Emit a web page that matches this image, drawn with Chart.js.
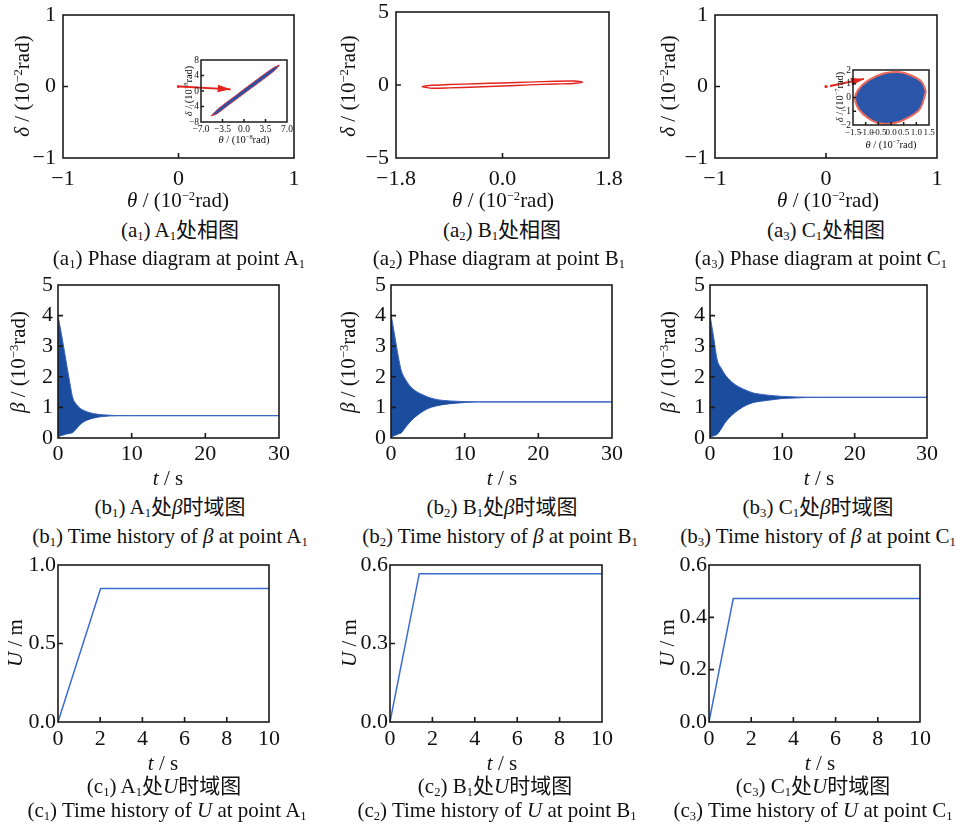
<!DOCTYPE html>
<html>
<head>
<meta charset="utf-8">
<script src="https://cdn.jsdelivr.net/npm/chart.js@4.4.1/dist/chart.umd.min.js"></script>
<style>
  html, body { margin: 0; padding: 0; background: #fff; }
  #fig { position: relative; width: 957px; height: 827px; overflow: hidden;
         font-family: "Liberation Serif", "Noto Sans CJK SC", serif; color: #111; }
  #fig canvas { position: absolute; }
  .t { position: absolute; white-space: nowrap; line-height: 1; transform: translate(-50%, -50%); }
  .t.r { transform: translate(-50%, -50%) rotate(-90deg); }
  .t sup { font-size: 0.6em; vertical-align: 0.55em; line-height: 0; }
  .t sub { font-size: 0.6em; vertical-align: -0.3em; line-height: 0; }
</style>
</head>
<body>
<div id="fig"></div>
<script>
// ---------------- data ----------------
// (a1) phase portrait at A1, 10^-2 rad
const a1ThetaTicks = [-1, 0, 1];
const a1DeltaTicks = [-1, 0, 1];
const a1OriginTheta = [0.0];
const a1OriginDelta = [0.0];
const a1ArrowTheta = [0.013, 0.452];
const a1ArrowDelta = [0.0, -0.039];
// (a1) zoomed orbit, 10^-8 rad
const a1InsetThetaTicks = [-7.0, -3.5, 0.0, 3.5, 7.0];
const a1InsetDeltaTicks = [-8, -4, 0, 4, 8];
const a1OrbitTheta = [-5.4, -4.5, -3.0, -1.0, 1.0, 3.0, 4.8, 5.75, 5.0, 3.2, 1.2, -0.8, -2.8, -4.4, -5.4];
const a1OrbitDelta = [-6.45, -5.0, -3.1, -0.75, 1.65, 4.0, 6.0, 6.7, 5.3, 3.1, 0.75, -1.6, -3.95, -5.9, -6.45];

// (a2) phase portrait at B1, 10^-2 rad
const a2ThetaTicks = [-1.8, 0.0, 1.8];
const a2DeltaTicks = [-5, 0, 5];
const a2OrbitTheta = [-1.365, -1.2, -0.9, -0.45, 0.0, 0.45, 0.9, 1.2, 1.355, 1.2, 0.9, 0.45, 0.0, -0.45, -0.9, -1.2, -1.365];
const a2OrbitDelta = [-0.11, -0.02, 0.03, 0.09, 0.14, 0.2, 0.26, 0.27, 0.18, 0.1, 0.07, 0.01, -0.07, -0.14, -0.2, -0.22, -0.11];

// (a3) phase portrait at C1, 10^-2 rad
const a3ThetaTicks = [-1, 0, 1];
const a3DeltaTicks = [-1, 0, 1];
const a3OriginTheta = [0.0];
const a3OriginDelta = [0.0];
const a3ArrowTheta = [0.036, 0.342];
const a3ArrowDelta = [0.007, 0.105];
// (a3) zoomed orbit, 10^-7 rad: outer boundary and two visible inner rings
const a3InsetThetaTicks = [-1.5, -1.0, -0.5, 0.0, 0.5, 1.0, 1.5];
const a3InsetDeltaTicks = [-2, -1, 0, 1, 2];
const a3OrbitTheta = [1.38, 1.2, 0.8, 0.3, -0.3, -0.9, -1.3, -1.42, -1.25, -0.9, -0.45, 0.15, 0.7, 1.15, 1.38];
const a3OrbitDelta = [0.45, 1.15, 1.6, 1.85, 1.75, 1.25, 0.55, -0.1, -0.9, -1.5, -1.88, -1.85, -1.45, -0.8, 0.45];
const a3Ring1Theta = [1.03, 0.9, 0.6, 0.22, -0.22, -0.68, -0.98, -1.06, -0.94, -0.68, -0.34, 0.11, 0.52, 0.86, 1.03];
const a3Ring1Delta = [0.34, 0.86, 1.2, 1.39, 1.31, 0.94, 0.41, -0.08, -0.68, -1.12, -1.41, -1.39, -1.09, -0.6, 0.34];
const a3Ring2Theta = [0.62, 0.54, 0.36, 0.13, -0.13, -0.4, -0.58, -0.64, -0.56, -0.4, -0.2, 0.07, 0.31, 0.52, 0.62];
const a3Ring2Delta = [0.2, 0.52, 0.72, 0.83, 0.79, 0.56, 0.25, -0.05, -0.4, -0.68, -0.85, -0.83, -0.65, -0.36, 0.2];

// (b) beta time histories, 10^-3 rad: oscillation envelopes
const bTimeTicks = [0, 10, 20, 30];
const bBetaTicks = [0, 1, 2, 3, 4, 5];
const b1Time  = [0, 0.5, 1, 1.5, 2, 2.5, 3, 3.5, 4, 5, 6, 7, 8, 10, 30];
const b1Upper = [4.0, 3.35, 2.65, 1.95, 1.32, 1.1, 0.97, 0.9, 0.85, 0.79, 0.76, 0.745, 0.735, 0.73, 0.73];
const b1Lower = [0.04, 0.08, 0.12, 0.15, 0.18, 0.3, 0.44, 0.53, 0.59, 0.66, 0.7, 0.72, 0.725, 0.73, 0.73];
const b2Time  = [0, 0.5, 1, 1.4, 2, 2.5, 3, 3.5, 4, 5, 6, 7, 8, 10, 12, 30];
const b2Upper = [4.05, 3.35, 2.65, 2.2, 1.9, 1.72, 1.6, 1.51, 1.45, 1.34, 1.27, 1.23, 1.21, 1.19, 1.18, 1.18];
const b2Lower = [0.03, 0.08, 0.13, 0.17, 0.36, 0.5, 0.63, 0.73, 0.82, 0.96, 1.04, 1.09, 1.12, 1.16, 1.18, 1.18];
const b3Time  = [0, 0.5, 1, 1.5, 2, 2.5, 3, 4, 5, 6, 7, 8, 10, 12, 15, 30];
const b3Upper = [4.0, 3.3, 2.55, 2.3, 2.1, 1.95, 1.83, 1.67, 1.56, 1.47, 1.43, 1.4, 1.36, 1.34, 1.33, 1.33];
const b3Lower = [0.03, 0.07, 0.12, 0.28, 0.47, 0.62, 0.74, 0.93, 1.07, 1.16, 1.2, 1.23, 1.29, 1.31, 1.33, 1.33];

// (c) U time histories, m
const cTimeTicks = [0, 2, 4, 6, 8, 10];
const c1UTicks = [0.0, 0.5, 1.0];
const c2UTicks = [0.0, 0.3, 0.6];
const c3UTicks = [0.0, 0.2, 0.4, 0.6];
const c1Time = [0, 2.02, 10];
const c1U    = [0, 0.85, 0.85];
const c2Time = [0, 1.38, 10];
const c2U    = [0, 0.567, 0.567];
const c3Time = [0, 1.15, 10];
const c3U    = [0, 0.472, 0.472];

// ---------------- styling ----------------
const FONT = '"Liberation Serif", "Noto Sans CJK SC", serif';
const RED = '#e3231d';
const FILL_BLUE = '#1b4d9f';
const EDGE_BLUE = '#3a62c0';
const LINE_BLUE = '#3c6bd2';
const TICK_SIZE = 22;
const fig = document.getElementById('fig');

const pts = (xs, ys) => xs.map((x, i) => ({ x: x, y: ys[i] }));
const fmt = (v, dec) => (v < 0 ? '\u2212' : '') + Math.abs(v).toFixed(dec);

// box frame with inward tick marks on the bottom and left axes
const framePlugin = {
  id: 'frame',
  afterDatasetsDraw(chart, args, o) {
    const { ctx, chartArea: a, scales } = chart;
    const tl = o.tick;
    ctx.save();
    ctx.strokeStyle = '#1b1b1b';
    ctx.lineWidth = o.lw;
    ctx.beginPath();
    scales.x.ticks.forEach(t => {
      const px = scales.x.getPixelForValue(t.value);
      if (px > a.left + 2 && px < a.right - 2) { ctx.moveTo(px, a.bottom); ctx.lineTo(px, a.bottom - tl); }
    });
    scales.y.ticks.forEach(t => {
      const py = scales.y.getPixelForValue(t.value);
      if (py > a.top + 2 && py < a.bottom - 2) { ctx.moveTo(a.left, py); ctx.lineTo(a.left + tl, py); }
    });
    ctx.stroke();
    ctx.strokeRect(a.left, a.top, a.right - a.left, a.bottom - a.top);
    ctx.restore();
  }
};

// arrowhead at the last point of datasets that carry an `arrow` setting
const arrowPlugin = {
  id: 'arrowHead',
  afterDatasetsDraw(chart) {
    const ctx = chart.ctx;
    chart.data.datasets.forEach((ds, i) => {
      if (!ds.arrow) return;
      const el = chart.getDatasetMeta(i).data;
      const p0 = el[el.length - 2], p1 = el[el.length - 1];
      const ang = Math.atan2(p1.y - p0.y, p1.x - p0.x);
      const ux = Math.cos(ang), uy = Math.sin(ang);
      const L = ds.arrow.len, H = ds.arrow.half;
      ctx.save();
      ctx.fillStyle = ds.borderColor;
      ctx.beginPath();
      ctx.moveTo(p1.x, p1.y);
      ctx.lineTo(p1.x - L * ux - H * uy, p1.y - L * uy + H * ux);
      ctx.lineTo(p1.x - L * ux + H * uy, p1.y - L * uy - H * ux);
      ctx.closePath();
      ctx.fill();
      ctx.restore();
    });
  }
};

function axisOpts(dir, a, m) {
  return {
    type: 'linear',
    position: dir === 'x' ? 'bottom' : 'left',
    min: a.min, max: a.max,
    afterBuildTicks: s => { s.ticks = a.ticks.map(v => ({ value: v })); },
    ticks: {
      autoSkip: false, maxRotation: 0, minRotation: 0,
      padding: a.pad, color: '#111',
      font: { family: FONT, size: a.size || TICK_SIZE },
      callback: v => fmt(v, a.dec || 0)
    },
    grid: { display: false, drawTicks: false },
    border: { display: false },
    afterFit: s => {
      if (dir === 'x') s.height = m.xH; else s.width = m.yW;
      s.paddingLeft = s.paddingRight = s.paddingTop = s.paddingBottom = 0;
    }
  };
}

function panel(rect, cfg) {
  const m = Object.assign({ yW: 52, xH: 40, top: 14, right: 18 }, cfg.margin || {});
  const c = document.createElement('canvas');
  const w = rect.r - rect.l + m.yW + m.right;
  const h = rect.b - rect.t + m.top + m.xH;
  c.width = w; c.height = h;
  c.style.left = (rect.l - m.yW) + 'px';
  c.style.top = (rect.t - m.top) + 'px';
  c.style.width = w + 'px'; c.style.height = h + 'px';
  fig.appendChild(c);
  return new Chart(c, {
    type: 'scatter',
    data: { datasets: cfg.datasets },
    options: {
      responsive: false, animation: false, devicePixelRatio: 1,
      layout: { padding: { top: m.top, right: m.right, left: 0, bottom: 0 } },
      plugins: { legend: { display: false }, tooltip: { enabled: false },
                 frame: { tick: cfg.tick || 5, lw: cfg.lw || 1.6 } },
      scales: { x: axisOpts('x', cfg.x, m), y: axisOpts('y', cfg.y, m) }
    },
    plugins: [framePlugin, arrowPlugin]
  });
}

const line = (xs, ys, color, width, extra) => Object.assign({
  data: pts(xs, ys), showLine: true, borderColor: color, borderWidth: width,
  pointRadius: 0, fill: false, tension: 0
}, extra || {});

function envelope(t, up, lo) {
  return [
    line(t, up, EDGE_BLUE, 1, { fill: '+1', backgroundColor: FILL_BLUE, cubicInterpolationMode: 'monotone' }),
    line(t, lo, EDGE_BLUE, 1, { cubicInterpolationMode: 'monotone' })
  ];
}

// ---------------- row a: phase portraits ----------------
panel({ l: 63, t: 15, r: 294, b: 158 }, {
  x: { min: -1, max: 1, ticks: a1ThetaTicks, pad: 8 },
  y: { min: -1, max: 1, ticks: a1DeltaTicks, pad: 7 },
  datasets: [
    line(a1ArrowTheta, a1ArrowDelta, RED, 1.8, { arrow: { len: 13, half: 3.8 } }),
    { data: pts(a1OriginTheta, a1OriginDelta), pointRadius: 1.6, pointBackgroundColor: RED, pointBorderWidth: 0 }
  ]
});
panel({ l: 396, t: 12, r: 609, b: 158 }, {
  x: { min: -1.8, max: 1.8, ticks: a2ThetaTicks, pad: 8, dec: 1 },
  y: { min: -5, max: 5, ticks: a2DeltaTicks, pad: 7 },
  datasets: [ line(a2OrbitTheta, a2OrbitDelta, RED, 1.4, { tension: 0.25 }) ]
});
panel({ l: 715, t: 15, r: 937, b: 158 }, {
  x: { min: -1, max: 1, ticks: a3ThetaTicks, pad: 8 },
  y: { min: -1, max: 1, ticks: a3DeltaTicks, pad: 7 },
  datasets: [
    line(a3ArrowTheta, a3ArrowDelta, RED, 1.8, { arrow: { len: 13, half: 4 } }),
    { data: pts(a3OriginTheta, a3OriginDelta), pointRadius: 1.6, pointBackgroundColor: RED, pointBorderWidth: 0 }
  ]
});

// insets
panel({ l: 201, t: 60, r: 287, b: 122 }, {
  margin: { yW: 16, xH: 16, top: 6, right: 8 }, tick: 3, lw: 1.5,
  x: { min: -7, max: 7, ticks: a1InsetThetaTicks, pad: 2, dec: 1, size: 9.5 },
  y: { min: -8, max: 8, ticks: a1InsetDeltaTicks, pad: 2, size: 9.5 },
  datasets: [ line(a1OrbitTheta, a1OrbitDelta, '#d8323a', 1, { fill: 'shape', backgroundColor: '#2352a8', tension: 0.2 }) ]
});
panel({ l: 853, t: 70, r: 929, b: 125 }, {
  margin: { yW: 14, xH: 16, top: 6, right: 6 }, tick: 3, lw: 1.5,
  x: { min: -1.5, max: 1.5, ticks: a3InsetThetaTicks, pad: 2, dec: 1, size: 9 },
  y: { min: -2, max: 2, ticks: a3InsetDeltaTicks, pad: 2, size: 9.5 },
  datasets: [
    line(a3OrbitTheta, a3OrbitDelta, '#ee6a5c', 2, { fill: 'shape', backgroundColor: '#2b56aa', tension: 0.4 }),
    line(a3Ring1Theta, a3Ring1Delta, 'rgba(170,190,235,0.7)', 0.8, { tension: 0.4 }),
    line(a3Ring2Theta, a3Ring2Delta, 'rgba(170,190,235,0.6)', 0.8, { tension: 0.4 }),
    { data: pts([0], [0]), pointRadius: 1, pointBackgroundColor: RED, pointBorderWidth: 0 }
  ]
});

// ---------------- row b: beta time histories ----------------
[[{ l: 58, t: 285, r: 279, b: 438 }, b1Time, b1Upper, b1Lower],
 [{ l: 391, t: 285, r: 612, b: 438 }, b2Time, b2Upper, b2Lower],
 [{ l: 710, t: 285, r: 927, b: 438 }, b3Time, b3Upper, b3Lower]].forEach(([rect, t, up, lo]) => {
  panel(rect, {
    x: { min: 0, max: 30, ticks: bTimeTicks, pad: 3 },
    y: { min: 0, max: 5, ticks: bBetaTicks, pad: 5 },
    datasets: envelope(t, up, lo)
  });
});

// ---------------- row c: U time histories ----------------
[[{ l: 58, t: 565, r: 269, b: 722 }, c1Time, c1U, c1UTicks, 1.0],
 [{ l: 390, t: 565, r: 602, b: 722 }, c2Time, c2U, c2UTicks, 0.6],
 [{ l: 709, t: 565, r: 920, b: 722 }, c3Time, c3U, c3UTicks, 0.6]].forEach(([rect, t, u, yt, ymax]) => {
  panel(rect, {
    x: { min: 0, max: 10, ticks: cTimeTicks, pad: 4 },
    y: { min: 0, max: ymax, ticks: yt, pad: 2, dec: 1 },
    datasets: [ line(t, u, LINE_BLUE, 1.5) ]
  });
});

// ---------------- axis titles and captions ----------------
const dTitle = (e) => '<i>\u03b4</i> / (10<sup>\u2212' + e + '</sup>rad)';
const thTitle = (e) => '<i>\u03b8</i> / (10<sup>\u2212' + e + '</sup>rad)';
const bTitle = '<i>\u03b2</i> / (10<sup>\u22123</sup>rad)';
const tTitle = '<i>t</i> / s';
const uTitle = '<i>U</i> / m';
const labels = [
  // row a
  [dTitle(2), 22, 86, 21, true], [thTitle(2), 178, 200, 21],
  [dTitle(2), 348, 86, 21, true], [thTitle(2), 503, 200, 21],
  [dTitle(2), 668, 86, 21, true], [thTitle(2), 828, 200, 21],
  [dTitle(8), 189, 91, 10.5, true], [thTitle(8), 244, 140, 10.5],
  [dTitle(7), 840, 97, 10.5, true], [thTitle(7), 891, 145, 10.5],
  ['(a<sub>1</sub>) A<sub>1</sub>处相图', 180, 230, 21],
  ['(a<sub>1</sub>) Phase diagram at point A<sub>1</sub>', 179, 258, 21],
  ['(a<sub>2</sub>) B<sub>1</sub>处相图', 502, 230, 21],
  ['(a<sub>2</sub>) Phase diagram at point B<sub>1</sub>', 499, 258, 21],
  ['(a<sub>3</sub>) C<sub>1</sub>处相图', 826, 230, 21],
  ['(a<sub>3</sub>) Phase diagram at point C<sub>1</sub>', 821, 258, 21],
  // row b
  [bTitle, 18, 362, 21, true], [tTitle, 168, 478, 21],
  [bTitle, 348, 362, 21, true], [tTitle, 502, 478, 21],
  [bTitle, 668, 362, 21, true], [tTitle, 819, 478, 21],
  ['(b<sub>1</sub>) A<sub>1</sub>处<i>\u03b2</i>时域图', 170, 507, 21],
  ['(b<sub>1</sub>) Time history of <i>\u03b2</i> at point A<sub>1</sub>', 170, 536, 21],
  ['(b<sub>2</sub>) B<sub>1</sub>处<i>\u03b2</i>时域图', 502, 507, 21],
  ['(b<sub>2</sub>) Time history of <i>\u03b2</i> at point B<sub>1</sub>', 500, 536, 21],
  ['(b<sub>3</sub>) C<sub>1</sub>处<i>\u03b2</i>时域图', 818, 507, 21],
  ['(b<sub>3</sub>) Time history of <i>\u03b2</i> at point C<sub>1</sub>', 818, 536, 21],
  // row c
  [uTitle, 15, 643, 21, true], [tTitle, 163, 763, 21],
  [uTitle, 349, 643, 21, true], [tTitle, 502, 763, 21],
  [uTitle, 667, 643, 21, true], [tTitle, 820, 763, 21],
  ['(c<sub>1</sub>) A<sub>1</sub>处<i>U</i>时域图', 164, 786, 21],
  ['(c<sub>1</sub>) Time history of <i>U</i> at point A<sub>1</sub>', 167, 810, 21],
  ['(c<sub>2</sub>) B<sub>1</sub>处<i>U</i>时域图', 495, 786, 21],
  ['(c<sub>2</sub>) Time history of <i>U</i> at point B<sub>1</sub>', 497, 810, 21],
  ['(c<sub>3</sub>) C<sub>1</sub>处<i>U</i>时域图', 813, 786, 21],
  ['(c<sub>3</sub>) Time history of <i>U</i> at point C<sub>1</sub>', 813, 810, 21]
];
labels.forEach(([html, x, y, size, rot]) => {
  const d = document.createElement('div');
  d.className = 't' + (rot ? ' r' : '');
  d.innerHTML = html;
  d.style.left = x + 'px';
  d.style.top = y + 'px';
  d.style.fontSize = size + 'px';
  fig.appendChild(d);
});
</script>
</body>
</html>
